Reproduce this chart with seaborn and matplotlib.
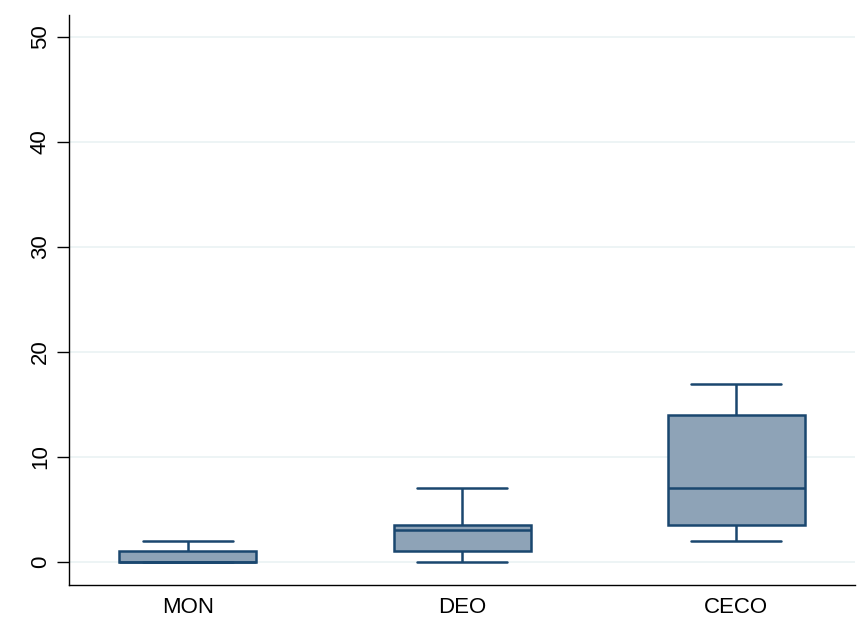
import matplotlib
matplotlib.use("Agg")
import matplotlib.pyplot as plt
import pandas as pd
import seaborn as sns

# values (chosen so the box statistics match)
mon = [0, 0, 0, 0, 1, 1, 2]
deo = [0, 1, 1, 2, 3, 3, 3.5, 5, 7]
ceco = [2, 3, 3.5, 5, 7, 10, 14, 16, 17]
groups = ["MON", "DEO", "CECO"]
yticks = [0, 10, 20, 30, 40, 50]

df = pd.DataFrame({
    "group": ["MON"] * len(mon) + ["DEO"] * len(deo) + ["CECO"] * len(ceco),
    "value": mon + deo + ceco,
})

sns.set_style("white")
plt.rcParams["font.family"] = ["Liberation Sans", "DejaVu Sans"]

navy = "#1a476f"
fill = "#8ea3b7"

fig = plt.figure(figsize=(8.64, 6.17), dpi=100)
ax = fig.add_axes([0.0799, 0.0519, 0.9097, 0.9238])

for y in yticks:
    ax.axhline(y, color="#eaf2f3", lw=1.2, zorder=0)

sns.boxplot(data=df, x="group", y="value", order=groups, width=0.5,
            color=fill, linecolor=navy, linewidth=1.8, saturation=1,
            capwidths=0.33, ax=ax,
            boxprops=dict(facecolor=fill, edgecolor=navy),
            medianprops=dict(color=navy, linewidth=1.8))

ax.set_xlim(-0.434, 2.434)
ax.set_ylim(-2.19, 52.1)
ax.set_yticks(yticks)
ax.set_xlabel("")
ax.set_ylabel("")
for s in ["top", "right"]:
    ax.spines[s].set_visible(False)
for s in ["left", "bottom"]:
    ax.spines[s].set_color("black")
    ax.spines[s].set_linewidth(1.0)

ax.tick_params(axis="y", length=9, width=1, color="black", labelsize=16,
               labelcolor="black", left=True, pad=4)
ax.tick_params(axis="x", length=0, labelsize=16, labelcolor="black", pad=9)
for lab in ax.get_yticklabels():
    lab.set_rotation(90)
    lab.set_va("center")

fig.savefig("out.png", dpi=100)
